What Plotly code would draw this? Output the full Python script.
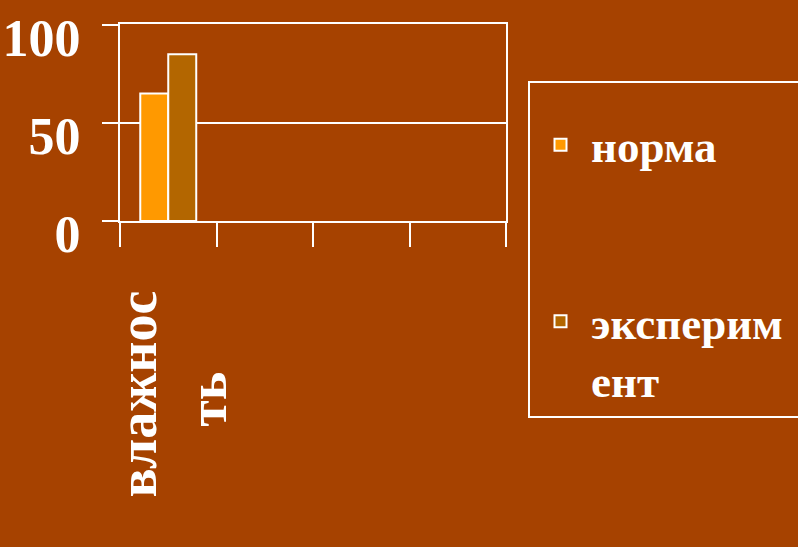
import plotly.graph_objects as go

NB = "\u00a0"
categories = ["влажнос<br>ть" + NB * 6, " ", "  ", "   "]
series_names = ["норма", "эксперим" + NB + "<br>ент"]
norma_values = [65, None, None, None]
experiment_values = [85, None, None, None]
y_tick_values = [0, 50, 100]
y_tick_labels = ["0", "50", "100"]

colors = ["#FF9900", "#B36600"]
font_family = "Liberation Serif, Times New Roman, serif"
bg = "#A64200"

fig = go.Figure()
for i, (name, vals) in enumerate(zip(series_names, [norma_values, experiment_values])):
    fig.add_trace(go.Bar(
        x=categories, y=vals, name=name,
        marker=dict(color=colors[i], line=dict(color="white", width=2)),
        legendgroup=f"g{i}",
    ))

fig.update_layout(
    width=798, height=547,
    margin=dict(l=120, r=292, t=24, b=326, autoexpand=False),
    paper_bgcolor=bg,
    plot_bgcolor="rgba(0,0,0,0)",
    barmode="group",
    bargap=0.42,
    bargroupgap=0,
    font=dict(family=font_family, color="white"),
    showlegend=True,
    legend=dict(
        x=1.057, y=0.711, xanchor="left", yanchor="top",
        bgcolor="rgba(0,0,0,0)", bordercolor="white", borderwidth=2,
        font=dict(family=font_family, size=45, color="white", weight="bold"),
        tracegroupgap=115, valign="top", traceorder="grouped",
        itemwidth=51, maxheight=500,
        title=dict(text=NB, font=dict(size=20)),
    ),
)
fig.update_xaxes(
    type="category", categoryorder="array", categoryarray=categories,
    showline=True, linecolor="white", linewidth=2, mirror=True,
    ticks="outside", ticklen=24, tickwidth=2, tickcolor="white",
    tickson="boundaries", tickangle=-90, ticklabelstandoff=46, ticklabelshift=5,
    tickfont=dict(family=font_family, size=54, color="white", weight="bold"),
    showgrid=False, fixedrange=True, ticklabeloverflow="allow",
)
fig.update_yaxes(
    range=[0, 100.4], tickvals=y_tick_values, ticktext=y_tick_labels,
    showgrid=True, gridcolor="white", gridwidth=2,
    showline=True, linecolor="white", linewidth=2, mirror=True,
    ticks="outside", ticklen=16, tickwidth=2, tickcolor="white",
    ticklabelstandoff=11, ticklabelshift=13, ticklabeloverflow="allow",
    tickfont=dict(family=font_family, size=52, color="white", weight="bold"),
    zeroline=False, fixedrange=True,
)

fig.write_html("out.html", config={"displayModeBar": False})
with open("out.html", encoding="utf-8") as f:
    html = f.read()
html = html.replace("<head>", "<head><style>html,body{margin:0;padding:0;background:" + bg + ";overflow:hidden}</style>", 1)
with open("out.html", "w", encoding="utf-8") as f:
    f.write(html)
